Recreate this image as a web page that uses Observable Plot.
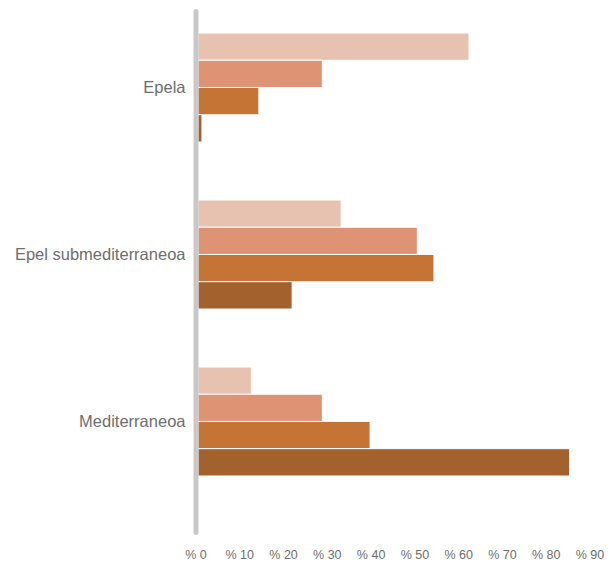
<!DOCTYPE html>
<html>
<head>
<meta charset="utf-8">
<script src="https://cdn.jsdelivr.net/npm/d3@7"></script>
<script src="https://cdn.jsdelivr.net/npm/@observablehq/plot@0.6"></script>
<style>
  html, body { margin: 0; padding: 0; background: #fff; }
</style>
</head>
<body>
<div id="chart"></div>
<script>
const categories = ["Epela", "Epel submediterraneoa", "Mediterraneoa"];
const series = ["1", "2", "3", "4"];
const values1 = [61.9, 32.7, 12.2];
const values2 = [28.4, 50.1, 28.4];
const values3 = [13.9, 53.9, 39.3];
const values4 = [0.9, 21.5, 84.9];
const xTicks = [0, 10, 20, 30, 40, 50, 60, 70, 80, 90];
const colors = ["#e8c2b0", "#de9474", "#c57435", "#a3622d"];

const allValues = [values1, values2, values3, values4];
const data = series.flatMap((s, i) =>
  categories.map((c, j) => ({category: c, series: s, value: allValues[i][j]}))
);

const width = 616, height = 562;
const yRange = [32, 476];
const padInner = 0.35;
const step = (yRange[1] - yRange[0]) / (categories.length - padInner);
const bandW = step * (1 - padInner);
const sub = bandW / series.length;

const chart = Plot.plot({
  width, height,
  marginTop: 11.5,
  marginBottom: 29.5,
  marginLeft: 198,
  marginRight: 24,
  style: {fontFamily: "'Liberation Sans', Arial, Helvetica, sans-serif", color: "#6e6e6e", background: "#fff"},
  x: {domain: [0, 90]},
  y: {domain: categories, range: yRange, paddingInner: padInner, paddingOuter: 0},
  color: {domain: series, range: colors},
  marks: [
    ...series.map((s, i) => Plot.barX(data.filter(d => d.series === s), {
      x: "value", y: "category", fill: "series",
      stroke: "white", strokeWidth: 1,
      insetTop: i * sub, insetBottom: (series.length - 1 - i) * sub
    })),
    Plot.ruleX([0], {stroke: "#c8c8c8", strokeWidth: 5, strokeLinecap: "round", dx: -2.5}),
    Plot.axisX({ticks: xTicks, tickFormat: d => "% " + d, tickSize: 0, tickPadding: 17.5, fontSize: 12.5, dx: -2.5, label: null}),
    Plot.axisY({tickSize: 0, tickPadding: 13, fontSize: 16.5, label: null})
  ]
});
document.getElementById("chart").appendChild(chart);
</script>
</body>
</html>
